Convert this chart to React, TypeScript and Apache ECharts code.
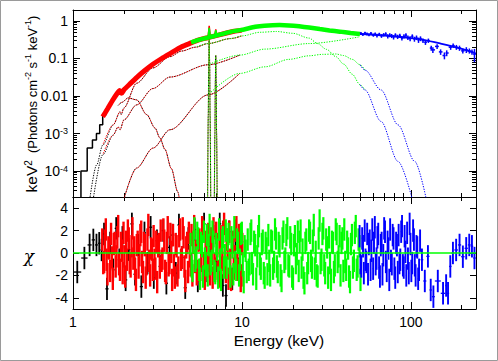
import React, { useEffect, useRef } from 'react';
import * as echarts from 'echarts';

// ---------- axis ranges ----------
const E_MIN = 1;
const E_MAX = 243;
const F_MIN = 2.03e-5;
const F_MAX = 1.963;
const CHI_MIN = -5;
const CHI_MAX = 5;

// ---------- ticks ----------
const xMajorTicks = [1, 10, 100];
const xTickLabels = ['1', '10', '100'];
const minorMult = [2, 3, 4, 5, 6, 7, 8, 9];
const yMajorTicks = [1, 0.1, 0.01, 0.001, 0.0001];
const yTickLabels = ['1', '0.1', '0.01', '10{s|-3}', '10{s|-4}'];
const chiTicks = [-4, -2, 0, 2, 4];
const chiTickLabels = ['-4', '-2', '0', '2', '4'];

// ---------- model components  [E keV, keV^2 flux] ----------
const compA: [number, number][] = [
  [1.25, 1.5e-5], [1.38, 1.45e-4], [1.5, 4.9e-4], [1.73, 1.7e-3], [1.9, 3.8e-3], [1.93, 3.2e-3],
  [2.0, 4.8e-3], [2.38, 0.0219], [2.97, 0.056], [3.75, 0.112], [4.4, 0.158], [5.3, 0.2],
  [6.3, 0.25], [8.6, 0.34], [10, 0.4], [12.8, 0.5], [16, 0.525], [20, 0.47], [25, 0.35],
  [28, 0.25], [31.7, 0.175], [36, 0.112], [40, 0.071], [45, 0.038], [50, 0.02], [53.5, 0.0145],
  [66.6, 0.0021], [84, 1.8e-4], [103, 1.5e-5],
];
const compB: [number, number][] = [
  [1.31, 1.5e-5], [1.5, 2.7e-4], [1.73, 9.1e-4], [1.85, 1.5e-3], [1.9, 1.26e-3], [2.0, 2.3e-3],
  [2.38, 5.8e-3], [2.97, 0.0158], [3.75, 0.032], [6.3, 0.068], [9.7, 0.123], [13.7, 0.178],
  [25, 0.25], [50, 0.38],
];
const compC: [number, number][] = [
  [1.98, 1.5e-5], [2.38, 1.2e-4], [2.98, 4.1e-4], [3.75, 1.26e-3], [6.3, 0.0107], [9.7, 0.04],
  [13.7, 0.06], [19, 0.095], [25, 0.118], [30, 0.129], [36, 0.132], [40, 0.12], [45, 0.095],
  [50, 0.068], [53.5, 0.049], [66.6, 0.0145], [84, 0.0017], [105.5, 1.8e-4], [123, 1.9e-5],
];
const compBB: [number, number][] = [
  [1.85, 0.0056], [1.95, 0.0068], [2.12, 0.0089], [2.38, 0.0079], [2.73, 0.0032], [3.06, 0.0014],
  [3.27, 7.6e-4], [3.5, 3.8e-4], [3.82, 1.17e-4], [4.17, 2.8e-5], [4.3, 1.4e-5],
];
const lineFe64: [number, number][] = [
  [6.26, 1e-5], [6.32, 0.003], [6.36, 0.08], [6.4, 0.45], [6.44, 0.08], [6.48, 0.003], [6.54, 1e-5],
];
const lineFe70: [number, number][] = [
  [6.86, 1e-5], [6.92, 0.001], [6.96, 0.025], [7.0, 0.12], [7.04, 0.025], [7.08, 0.001], [7.14, 1e-5],
];
const blueModel: [number, number][] = [
  [50, 0.45], [60, 0.43], [70, 0.41], [84, 0.38], [100, 0.35], [121, 0.31], [150, 0.25],
  [180, 0.205], [210, 0.17], [243, 0.135],
];

// ---------- unfolded spectra ----------
const blackSpec: [number, number][] = [
  [1.066, 1e-5], [1.165, 1.0e-4], [1.264, 4.1e-4], [1.344, 6.7e-4], [1.41, 1.0e-3],
  [1.469, 1.7e-3], [1.53, 3.1e-3], [1.6, 4.5e-3],
];
const redSpec: [number, number][] = [
  [1.5, 0.0028], [1.6, 0.0045], [1.72, 0.0078], [1.82, 0.0115], [1.89, 0.014], [1.94, 0.0118],
  [2.0, 0.0145], [2.2, 0.022], [2.38, 0.031], [2.65, 0.047], [2.97, 0.07], [3.35, 0.1],
  [3.75, 0.135], [4.4, 0.205], [5.0, 0.26], [5.5, 0.31], [6.0, 0.345], [6.32, 0.36],
  [6.93, 0.4], [8.0, 0.47], [9.0, 0.53], [10.0, 0.57],
];
const redFeSpec: [number, number][] = [
  [6.3, 0.36], [6.4, 0.74], [6.5, 0.37], [6.9, 0.4], [7.0, 0.6], [7.1, 0.41],
];
const greenSpec: [number, number][] = [
  [5.0, 0.27], [5.5, 0.31], [6.0, 0.345], [6.32, 0.36], [6.93, 0.4], [8.65, 0.52], [10, 0.58],
  [12, 0.7], [13.6, 0.75], [16.7, 0.78], [19, 0.76], [21.8, 0.72], [25, 0.67], [28.9, 0.61],
  [33, 0.56], [38, 0.52], [44, 0.48], [50, 0.45],
];
const greenFeSpec: [number, number][] = [
  [6.3, 0.37], [6.4, 0.66], [6.5, 0.38], [6.9, 0.41], [7.0, 0.57], [7.1, 0.42],
];
// [E, flux, error]
const blueSpec: [number, number, number][] = [
  [50.6, 0.47, 0.04], [52, 0.44, 0.04], [53.5, 0.48, 0.04], [55, 0.45, 0.04], [56.5, 0.43, 0.04],
  [58, 0.47, 0.04], [60, 0.42, 0.04], [61.5, 0.45, 0.04], [63, 0.41, 0.045], [65, 0.44, 0.045],
  [67, 0.4, 0.045], [69, 0.43, 0.045], [71, 0.45, 0.05], [73, 0.39, 0.05], [75, 0.42, 0.05],
  [77, 0.4, 0.05], [79, 0.37, 0.05], [81, 0.42, 0.05], [83.5, 0.38, 0.05], [86, 0.41, 0.05],
  [88.5, 0.35, 0.05], [91, 0.39, 0.05], [93.5, 0.42, 0.05], [96, 0.36, 0.05], [99, 0.34, 0.05],
  [102, 0.39, 0.05], [105, 0.33, 0.05], [108, 0.36, 0.05], [111, 0.31, 0.05], [114, 0.34, 0.05],
  [118, 0.3, 0.04], [122, 0.27, 0.04], [127, 0.3, 0.04], [132, 0.19, 0.03], [135, 0.17, 0.03],
  [143, 0.21, 0.03], [150, 0.15, 0.025], [158, 0.12, 0.025], [163, 0.14, 0.025], [172, 0.2, 0.03],
  [178, 0.22, 0.03], [186, 0.2, 0.03], [194, 0.19, 0.03], [203, 0.16, 0.025], [213, 0.17, 0.03],
  [222, 0.16, 0.025], [230, 0.15, 0.025], [238, 0.13, 0.05],
];

// ---------- residuals  [E keV, chi of each channel in the bin ...] ----------
const blackRes: number[][] = [
  [1.06, -1.7], [1.18, -0.45], [1.26, 0.72], [1.32, 1.17], [1.38, 0.72], [1.43, 0.87], [1.48, 0.27],
  [1.52, 1.7], [1.59, -3.2], [1.66, 0.9], [1.73, -1.5], [1.8, 2.2], [1.88, -0.6], [1.96, 1.4], [2.05, -2.4], [2.14, 0.3], [2.23, 2.6],
  [2.33, -1.9], [2.43, 0.7], [2.54, -3.0], [2.65, 1.8], [2.76, -0.9], [2.88, 2.3], [3.01, -2.2], [3.14, 1.1], [3.28, -1.2], [3.42, 2.0],
  [3.57, -2.7], [3.73, 0.5], [3.89, 1.6], [4.06, -1.8], [4.24, 2.5], [4.42, -0.4], [4.62, -3.1], [4.82, 1.3], [5.03, -1.0], [5.25, 2.1],
  [5.48, -2.5], [5.72, 0.8], [5.97, 2.6], [6.23, -1.6], [6.5, 0.6], [6.78, 1.5], [7.08, -0.7], [7.39, 2.6], [7.71, -2.9], [8.05, -3.8],
  [8.4, 1.9], [8.77, -2.3], [9.15, 0.4], [9.55, -1.4], [9.97, 1.0],
];
const redRes: number[][] = [
  [1.5, 1.2, -0.9], [1.54, -0.8, 1.1], [1.57, 2.1, -0.6], [1.61, -1.9, 0.5], [1.65, 0.4, -1.6], [1.69, 1.7, -0.4], [1.73, -2.3, 0.8], [1.78, 0.9, -1.2], [1.82, -0.3, 1.4], [1.86, 2.4, -1.0],
  [1.91, -1.5, 0.9], [1.96, 0.2, -1.8], [2.0, 1.8, -0.3], [2.05, -2.1, 1.0], [2.1, -0.6, 2.0], [2.15, 1.3, -0.9], [2.21, -1.2, 0.6], [2.26, 2.2, -0.5], [2.32, 0.5, -1.4], [2.37, -2.4, 0.7],
  [2.43, 1.0, -1.3], [2.49, -0.2, 1.6], [2.55, 1.9, -0.8], [2.61, -1.7, 0.9], [2.68, 0.7, -2.2], [2.74, -1.0, 1.2], [2.81, 2.5, -0.7], [2.88, -2.0, 0.4], [2.95, 0.3, -1.5], [3.02, 1.5, -0.6],
  [3.09, -1.4, 1.0], [3.17, -2.6, 0.6], [3.25, 0.8, -1.3], [3.32, 2.0, -0.7], [3.41, -0.5, 2.1], [3.49, 1.1, -1.6], [3.57, -1.8, 0.9], [3.66, 2.3, -1.1], [3.75, -0.9, 1.7], [3.84, 0.1, -2.4],
  [3.93, 1.6, -1.1], [4.03, -2.2, 0.8], [4.13, 0.6, -2.0], [4.23, -1.3, 1.5], [4.33, 2.1, -0.6], [4.44, -0.4, 2.2], [4.54, 1.4, -1.2], [4.65, -2.5, 0.5], [4.77, 0.9, -1.7], [4.88, 1.8, -0.3],
  [5.0, -1.1, 1.6], [5.12, -2.0, 0.9], [5.25, 2.4, -0.8], [5.37, 0.2, -1.9], [5.5, -1.6, 1.1], [5.64, 1.2, -1.5], [5.78, -0.7, 2.3], [5.92, 2.0, -0.9], [6.06, -2.3, 1.0], [6.21, 0.5, -1.2],
  [6.36, 1.7, -0.7], [6.51, -1.9, 1.3], [6.67, -0.1, -2.2], [6.83, 2.2, -1.0], [7.0, -1.4, 1.8], [7.17, 0.8, -1.6], [7.34, -2.1, 0.6], [7.52, 1.5, -1.3], [7.7, -0.6, 1.9], [7.89, 2.6, -0.8],
  [8.08, -1.7, 1.2], [8.28, 0.4, -2.3], [8.48, 1.9, -0.6], [8.69, -2.4, 0.9], [8.9, 1.0, -1.4], [9.11, -0.3, 2.0], [9.33, 2.3, -1.0], [9.56, -1.5, 1.6], [9.79, 0.7, -2.5], [10.0, -2.0, 0.8],
];
const greenRes: number[][] = [
  [5.0, 0.8, -1.2], [5.13, -1.6, 1.0], [5.27, 2.2, -0.7], [5.4, -0.4, 1.8], [5.55, 1.3, -1.5], [5.69, -2.3, 0.9], [5.84, 0.6, -2.1], [6.0, 1.9, -0.5], [6.15, -1.1, 1.6], [6.31, -2.0, 0.7],
  [6.48, 2.5, -1.0], [6.65, -0.7, 1.9], [6.82, 1.0, -1.6], [7.0, -1.8, 0.8], [7.19, 0.3, -2.2], [7.37, 2.1, -0.6], [7.57, -2.4, 1.1], [7.77, 1.4, -1.3], [7.97, -0.2, 2.0], [8.18, -1.3, 1.2],
  [8.39, 1.7, -0.9], [8.61, -2.1, 1.4], [8.84, 0.5, -1.9], [9.07, 2.3, -0.8], [9.31, -1.5, 1.2], [9.55, 0.9, -2.0], [9.8, -0.6, 1.7], [10.06, 1.8, -1.1], [10.3, -2.6, 0.6], [10.6, 0.2, -1.7],
  [10.9, 1.2, -1.5], [11.2, -1.0, 1.7], [11.4, 2.0, -0.9], [11.7, -1.9, 1.0], [12.1, 0.7, -2.3], [12.4, -0.3, 1.5], [12.7, 2.4, -1.0], [13.0, -1.4, 0.8], [13.4, 1.1, -1.8], [13.7, -2.2, 0.9],
  [14.1, 0.4, -1.9], [14.4, 1.6, -0.7], [14.8, -2.0, 1.1], [15.2, 1.0, -1.4], [15.6, -0.8, 2.1], [16.0, 1.3, -1.2], [16.4, -1.7, 0.9], [16.8, 0.6, -2.0], [17.3, -2.5, 1.3], [17.7, 1.9, -0.8],
  [18.2, -0.5, 1.6], [18.7, 2.2, -1.1], [19.2, -1.2, 1.4], [19.7, 0.8, -2.1], [20.2, -2.3, 0.7], [20.7, 1.5, -0.9], [21.3, -0.1, 1.9], [21.8, -1.6, 1.0], [22.4, 2.0, -1.3], [23.0, 0.3, -2.2],
  [23.6, -2.7, 0.9], [24.2, 1.2, -1.8], [24.8, -0.9, 2.0], [25.5, 1.8, -0.7], [26.1, -1.3, 1.1], [26.8, 2.5, -1.4], [27.5, 0.1, -2.0], [28.3, -2.1, 1.3], [29.0, 2.9, -0.9], [29.8, -0.6, 1.7],
  [30.5, 2.2, -1.1], [31.3, -1.8, 1.2], [32.2, 0.5, -2.2], [33.0, 1.4, -0.9], [33.9, -2.4, 1.0], [34.8, 0.9, -1.7], [35.7, -1.1, 2.1], [36.6, 1.7, -0.8], [37.6, -0.3, 1.5], [38.6, -2.0, 0.9],
  [39.6, 1.3, -1.6], [40.6, 2.1, -0.8], [41.7, -1.5, 1.0], [42.8, 0.4, -2.1], [43.9, -2.6, 0.8], [45.1, 1.6, -1.3], [46.3, -0.7, 1.8], [47.5, 2.4, -1.5], [48.7, -1.2, 1.2], [50.0, 0.6, -2.4],
];
const blueRes: number[][] = [
  [50.0, 1.5, -0.9], [51.2, -1.2, 1.3], [52.4, 0.6, -1.8], [53.6, 2.0, -0.6], [54.8, -0.8, 1.7], [56.1, -1.9, 0.8], [57.4, 1.1, -1.5], [58.8, 0.2, 2.1], [60.1, -1.4, 0.9], [61.6, 2.3, -1.0],
  [63.0, -0.5, 1.4], [64.5, 1.7, -1.3], [66.0, -2.1, 0.7], [67.5, 0.9, -1.9], [69.1, -0.2, 2.2], [70.7, 1.9, -0.8], [72.4, -1.6, 1.0], [74.1, 0.4, -2.4], [75.8, 2.1, -0.7], [77.6, -1.0, 1.6],
  [79.4, 1.3, -1.4], [81.3, -2.2, 0.9], [83.2, 0.7, -1.7], [85.1, 1.6, -0.9], [87.1, -0.6, 1.9], [89.2, 2.4, -1.1], [91.3, -1.3, 1.5], [93.4, 0.1, -2.0], [95.6, 1.8, -0.5], [97.8, -1.8, 2.6],
  [100, 0.8, -1.6], [102.5, -0.9, 2.0], [104.9, 1.2, -1.1], [107.3, -2.0, 0.6], [109.8, 0.5, -2.3], [112.4, -1.5, 1.1],
  [116, -0.6], [121, -2.5], [126, -0.3], [132, -3.3], [134.5, -3.9], [143, -2.5], [158, -3.6], [162, -2.9],
  [165, -3.6], [172, -1.2], [176, 0.0], [186, 0.27], [194, 0.72], [203, -0.33], [213, 0.42], [222, 0.72],
  [230, 0.6], [238, -0.45],
];

// ---------- colours ----------
const C_BLACK = '#000000';
const C_RED = '#ff0000';
const C_GREEN = '#00ff00';
const C_BLUE = '#0000ff';

const FONT = 'Liberation Sans';
const L = Math.log10;
const LX_MAX = L(E_MAX);
const LY_MIN = L(F_MIN);
const LY_MAX = L(F_MAX);

function minorLogTicks(lo: number, hi: number, decades: number[]): number[] {
  const out: number[] = [];
  decades.forEach((d) => minorMult.forEach((m) => {
    const v = L(m * d);
    if (v > lo && v < hi) out.push(v);
  }));
  return out;
}

const toLog = (arr: [number, number][], lo = 0, hi = Infinity) =>
  arr.filter(([e]) => e >= lo && e <= hi).map(([e, f]) => [L(e), L(f)]);

function xAxisDef(grid: number, position: string, ticks: number[], len: number, showLine: boolean, labels = false) {
  return {
    type: 'value', gridIndex: grid, position, min: 0, max: LX_MAX,
    axisLine: { show: showLine, onZero: false, lineStyle: { color: '#000', width: 1 } },
    axisTick: { show: true, inside: true, length: len, customValues: ticks, lineStyle: { color: '#000', width: 1 } },
    axisLabel: labels
      ? {
          show: true, customValues: xMajorTicks.map(L), margin: 6, fontSize: 14, fontFamily: FONT, color: '#000',
          formatter: (v: number) => {
            const i = xMajorTicks.findIndex((t) => Math.abs(L(t) - v) < 1e-6);
            return i >= 0 ? xTickLabels[i] : '';
          },
        }
      : { show: false },
    splitLine: { show: false },
  };
}

function yAxisDef(grid: number, position: string, min: number, max: number, ticks: number[], len: number, showLine: boolean, labelKind = '') {
  let axisLabel: any = { show: false };
  if (labelKind === 'flux') {
    axisLabel = {
      show: true, customValues: yMajorTicks.map(L), margin: 5, fontSize: 14, fontFamily: FONT, color: '#000',
      formatter: (v: number) => {
        const i = yMajorTicks.findIndex((t) => Math.abs(L(t) - v) < 1e-6);
        return i >= 0 ? yTickLabels[i] : '';
      },
      rich: { s: { fontSize: 9, fontFamily: FONT, color: '#000', verticalAlign: 'top', padding: [0, 0, 4, 0] } },
    };
  } else if (labelKind === 'chi') {
    axisLabel = {
      show: true, customValues: chiTicks, margin: 5, fontSize: 14, fontFamily: FONT, color: '#000',
      formatter: (v: number) => {
        const i = chiTicks.findIndex((t) => Math.abs(t - v) < 1e-6);
        return i >= 0 ? chiTickLabels[i] : '';
      },
    };
  }
  return {
    type: 'value', gridIndex: grid, position, min, max,
    axisLine: { show: showLine, onZero: false, lineStyle: { color: '#000', width: 1 } },
    axisTick: { show: true, inside: true, length: len, customValues: ticks, lineStyle: { color: '#000', width: 1 } },
    axisLabel,
    splitLine: { show: false },
  };
}

function dottedSeries(data: number[][], color: string, offset = 0) {
  return {
    type: 'line', xAxisIndex: 0, yAxisIndex: 0, data, showSymbol: false, silent: true, clip: true,
    smooth: 0.3, smoothMonotone: 'x',
    lineStyle: { color, width: 1, type: [1.3, 1.3], dashOffset: offset },
    z: 2,
  };
}

// each bin holds one or more channels; channels are drawn side by side inside the bin
function resSeries(rows: number[][], color: string, width: number) {
  const lx = rows.map((r) => L(r[0]));
  const data = rows.map((r, i) => [lx[i], r[1]]);
  return {
    type: 'custom', xAxisIndex: 4, yAxisIndex: 4, clip: true, silent: true, data,
    encode: { x: 0, y: 1 },
    renderItem: (params: any, api: any) => {
      const i = params.dataIndex;
      const x = lx[i];
      const prev = i > 0 ? lx[i - 1] : null;
      const next = i < lx.length - 1 ? lx[i + 1] : null;
      const hl = prev !== null ? (x - prev) / 2 : ((next as number) - x) / 2;
      const hr = next !== null ? (next - x) / 2 : (x - (prev as number)) / 2;
      const chis = rows[i].slice(1);
      const k = chis.length;
      const w = (hl + hr) / k;
      const children: any[] = [];
      chis.forEach((c, j) => {
        const x0 = x - hl + j * w;
        const xc = x0 + w / 2;
        const a = api.coord([x0, c]);
        const b = api.coord([x0 + w, c]);
        const t = api.coord([xc, c + 1]);
        const d = api.coord([xc, c - 1]);
        children.push({ type: 'line', shape: { x1: a[0], y1: a[1], x2: b[0], y2: b[1] }, style: { stroke: color, lineWidth: 1.3 } });
        children.push({ type: 'line', shape: { x1: t[0], y1: t[1], x2: d[0], y2: d[1] }, style: { stroke: color, lineWidth: width } });
      });
      return { type: 'group', children };
    },
    z: 3,
  };
}

function crossSeries(arr: [number, number, number][], color: string) {
  const pts = arr.map(([e, f, df]) => [L(e), L(f), L(f - df), L(f + df)]);
  return {
    type: 'custom', xAxisIndex: 0, yAxisIndex: 0, clip: true, silent: true, data: pts,
    encode: { x: 0, y: 1 },
    renderItem: (params: any, api: any) => {
      const i = params.dataIndex;
      const x = api.value(0);
      const y = api.value(1);
      const prev = i > 0 ? pts[i - 1][0] : null;
      const next = i < pts.length - 1 ? pts[i + 1][0] : null;
      const hl = prev !== null ? (x - prev) / 2 : ((next as number) - x) / 2;
      const hr = next !== null ? (next - x) / 2 : (x - (prev as number)) / 2;
      const a = api.coord([x - hl, y]);
      const b = api.coord([x + hr, y]);
      const t = api.coord([x, api.value(3)]);
      const d = api.coord([x, api.value(2)]);
      const st = { stroke: color, lineWidth: 1.5 };
      return {
        type: 'group',
        children: [
          { type: 'line', shape: { x1: a[0], y1: a[1], x2: b[0], y2: b[1] }, style: st },
          { type: 'line', shape: { x1: t[0], y1: t[1], x2: d[0], y2: d[1] }, style: st },
        ],
      };
    },
    z: 6,
  };
}

export default function App() {
  const ref = useRef<HTMLDivElement>(null);
  useEffect(() => {
    if (!ref.current) return;
    const chart = echarts.init(ref.current, undefined, { renderer: 'svg' });

    const xMajor = xMajorTicks.map(L);
    const xMinor = minorLogTicks(0, LX_MAX, [1, 10, 100]);
    const yMajor = yMajorTicks.map(L);
    const yMinor = minorLogTicks(LY_MIN, LY_MAX, [1e-5, 1e-4, 1e-3, 0.01, 0.1, 1]);

    const comps = [compA, compB, compC, compBB, lineFe64, lineFe70];
    const series: any[] = [];
    comps.forEach((c) => series.push(dottedSeries(toLog(c, 0, 10), C_BLACK)));
    comps.forEach((c) => series.push(dottedSeries(toLog(c, 1.45, 10), C_RED, 1.3)));
    comps.forEach((c) => series.push(dottedSeries(toLog(c, 5.2, 54), C_GREEN, 0.6)));
    comps.forEach((c) => series.push(dottedSeries(toLog(c, 50, 250), C_BLUE)));

    series.push({
      type: 'line', xAxisIndex: 0, yAxisIndex: 0, data: toLog(blackSpec), step: 'middle', showSymbol: false,
      silent: true, clip: true, lineStyle: { color: C_BLACK, width: 1.5 }, z: 4,
    });
    series.push({
      type: 'line', xAxisIndex: 0, yAxisIndex: 0, data: toLog(redSpec), showSymbol: false, smooth: 0.2,
      silent: true, clip: true, lineStyle: { color: C_RED, width: 5 }, z: 4,
    });
    series.push({
      type: 'line', xAxisIndex: 0, yAxisIndex: 0, data: toLog(redFeSpec), showSymbol: false,
      silent: true, clip: true, lineStyle: { color: C_RED, width: 1.5 }, z: 4,
    });
    series.push({
      type: 'line', xAxisIndex: 0, yAxisIndex: 0, data: toLog(greenSpec), showSymbol: false, smooth: 0.2,
      silent: true, clip: true, lineStyle: { color: C_GREEN, width: 4.5 }, z: 5,
    });
    series.push({
      type: 'line', xAxisIndex: 0, yAxisIndex: 0, data: toLog(greenFeSpec), showSymbol: false,
      silent: true, clip: true, lineStyle: { color: C_GREEN, width: 1.5 }, z: 5,
    });
    series.push({
      type: 'line', xAxisIndex: 0, yAxisIndex: 0, data: toLog(blueModel), showSymbol: false, smooth: 0.2,
      silent: true, clip: true, lineStyle: { color: C_BLUE, width: 1.8 }, z: 6,
    });
    series.push(crossSeries(blueSpec, C_BLUE));

    series.push(resSeries(blackRes, C_BLACK, 1.8));
    series.push(resSeries(redRes, C_RED, 2.4));
    series.push(resSeries(greenRes, C_GREEN, 2.2));
    series.push(resSeries(blueRes, C_BLUE, 1.9));
    series.push({
      type: 'line', xAxisIndex: 4, yAxisIndex: 4, data: [[L(E_MIN), 0], [LX_MAX, 0]], showSymbol: false,
      silent: true, lineStyle: { color: C_GREEN, width: 1.5 }, z: 10,
    });

    chart.setOption({
      animation: false,
      backgroundColor: '#ffffff',
      grid: [
        { left: 73, top: 10, width: 403, height: 187 },
        { left: 73, top: 197, width: 403, height: 112 },
      ],
      xAxis: [
        xAxisDef(0, 'bottom', xMajor, 7, true),
        xAxisDef(0, 'bottom', xMinor, 4, false),
        xAxisDef(0, 'top', xMajor, 7, true),
        xAxisDef(0, 'top', xMinor, 4, false),
        xAxisDef(1, 'bottom', xMajor, 7, true, true),
        xAxisDef(1, 'bottom', xMinor, 4, false),
        xAxisDef(1, 'top', xMajor, 7, true),
        xAxisDef(1, 'top', xMinor, 4, false),
      ],
      yAxis: [
        yAxisDef(0, 'left', LY_MIN, LY_MAX, yMajor, 7, true, 'flux'),
        yAxisDef(0, 'left', LY_MIN, LY_MAX, yMinor, 4, false),
        yAxisDef(0, 'right', LY_MIN, LY_MAX, yMajor, 7, true),
        yAxisDef(0, 'right', LY_MIN, LY_MAX, yMinor, 4, false),
        yAxisDef(1, 'left', CHI_MIN, CHI_MAX, chiTicks, 6, true, 'chi'),
        yAxisDef(1, 'right', CHI_MIN, CHI_MAX, chiTicks, 6, true),
      ],
      series,
      graphic: [
        {
          type: 'rect', shape: { x: 0.5, y: 0.5, width: 497, height: 360 },
          style: { fill: 'none', stroke: '#9a9a9a', lineWidth: 1 }, silent: true,
        },
        {
          type: 'text', x: 279, y: 340, silent: true,
          style: { text: 'Energy (keV)', fontSize: 15.5, fontFamily: FONT, fill: '#000', align: 'center', verticalAlign: 'middle' },
        },
        {
          type: 'text', x: 29, y: 256, silent: true,
          style: { text: 'χ', fontSize: 17, fontStyle: 'italic', fontFamily: 'DejaVu Serif', fill: '#000', align: 'center', verticalAlign: 'middle' },
        },
        {
          type: 'text', x: 31, y: 104, rotation: Math.PI / 2, silent: true,
          style: {
            text: '{a|keV}{sa|2}{c|  (Photons cm}{sc|-2}{c| s}{sc|-1}{c| keV}{sc|-1}{c|)}',
            align: 'center', verticalAlign: 'middle', fill: '#000',
            rich: {
              a: { fontSize: 15.5, fontFamily: FONT, fill: '#000', verticalAlign: 'bottom' },
              sa: { fontSize: 10, fontFamily: FONT, fill: '#000', verticalAlign: 'top' },
              c: { fontSize: 13, fontFamily: FONT, fill: '#000', verticalAlign: 'bottom' },
              sc: { fontSize: 9, fontFamily: FONT, fill: '#000', verticalAlign: 'top' },
            },
          },
        },
      ],
    });
    return () => chart.dispose();
  }, []);
  return <div ref={ref} style={{ position: 'fixed', left: 0, top: 0, width: 498, height: 361, background: '#fff' }} />;
}
